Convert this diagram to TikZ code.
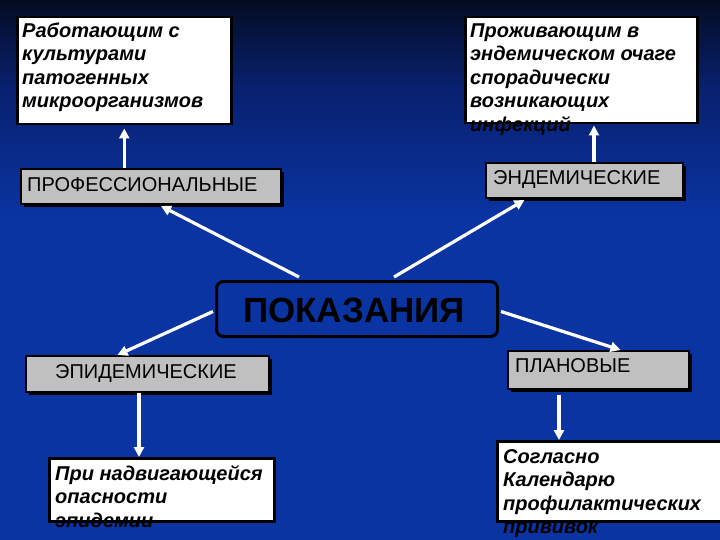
\documentclass[tikz,border=0pt]{standalone}
\usepackage{fontspec}
\setmainfont{Liberation Sans}
\usetikzlibrary{arrows.meta,positioning,calc,shadows}

\definecolor{bgblue}{RGB}{10,52,162}
\definecolor{bgtop}{RGB}{4,12,34}
\definecolor{bgmid}{RGB}{8,32,110}
\definecolor{boxgray}{RGB}{192,192,192}
\pgfdeclareverticalshading{slide}{100bp}{color(0bp)=(bgblue); color(25bp)=(bgblue);
  color(55bp)=(bgblue); color(67bp)=(bgmid); color(75bp)=(bgtop); color(100bp)=(bgtop)}
\newcommand{\firstline}{\rule{0pt}{16pt}}

\begin{document}
\begin{tikzpicture}[
  x=1pt, y=-1pt,
  whitebox/.style={draw=black, line width=2.5pt, fill=white, inner sep=0pt, anchor=north west},
  graybox/.style={draw=black, line width=2pt, fill=boxgray, inner sep=0pt, anchor=north west,
    drop shadow={shadow xshift=3pt, shadow yshift=-3pt, opacity=1, fill=black}},
  mainbox/.style={draw=black, line width=3pt, fill=bgblue, rounded corners=7pt,
    inner sep=0pt, anchor=north west},
  itext/.style={anchor=north west, align=left, inner sep=0pt, text=black,
    font=\fontsize{20}{23.5}\selectfont\bfseries\itshape},
  ctext/.style={anchor=base west, inner sep=0pt, text=black, font=\fontsize{20}{24}\selectfont},
  arr/.style={-{Triangle[length=10pt,width=10pt]}, draw=white, line width=3.2pt}
]
% background
\shade[shading=slide] (0,0) rectangle (720,540);
\useasboundingbox (0,0) rectangle (720,540);

% ── top row: who gets vaccinated ───────────────────────────────────────
\node[whitebox, minimum width=214pt, minimum height=107pt] (work) at (16,16) {};
\node[itext] (worktxt) at (22,21) {\firstline Работающим с\\культурами\\патогенных\\микроорганизмов};
\node[whitebox, minimum width=232pt, minimum height=106pt] (live) at (464,16) {};
\node[itext] (livetxt) at (470,21) {\firstline Проживающим в\\эндемическом очаге\\спорадически\\возникающих\\инфекций};

% ── kinds of indications ───────────────────────────────────────────────
\node[graybox, minimum width=260pt, minimum height=35pt] (prof) at (20,168) {};
\node[ctext] (proftxt) at (27,192) {ПРОФЕССИОНАЛЬНЫЕ};
\node[graybox, minimum width=197pt, minimum height=35pt] (endem) at (485,162) {};
\node[ctext] (endemtxt) at (493,185) {ЭНДЕМИЧЕСКИЕ};

\node[mainbox, minimum width=281pt, minimum height=55pt] (pok) at (215,280) {};
\node[anchor=base west, inner sep=0pt, text=black,
  font=\fontsize{35}{40}\selectfont\bfseries] (poktxt) at (243,322) {ПОКАЗАНИЯ};

\node[graybox, minimum width=243pt, minimum height=36pt] (epid) at (25,355) {};
\node[ctext] (epidtxt) at (55,378) {ЭПИДЕМИЧЕСКИЕ};
\node[graybox, minimum width=181pt, minimum height=38pt] (plan) at (507,350) {};
\node[ctext] (plantxt) at (515,372) {ПЛАНОВЫЕ};

% ── bottom row ─────────────────────────────────────────────────────────
\node[whitebox, minimum width=225pt, minimum height=63pt] (threat) at (48,457) {};
\node[itext] (threattxt) at (55,464) {\firstline При надвигающейся\\опасности\\эпидемии};
\node[whitebox, minimum width=226pt, minimum height=80pt] (cal) at (496,440) {};
\node[itext] (caltxt) at (503,447) {\firstline Согласно\\Календарю\\профилактических\\прививок};

% ── connectors ─────────────────────────────────────────────────────────
\draw[arr] ([xshift=-58pt,yshift=3pt]pok.north) -- ([xshift=10pt,yshift=-1pt]prof.south);
\draw[arr] ([xshift=37pt,yshift=3pt]pok.north) -- ([xshift=-60pt,yshift=-1pt]endem.south);
\draw[arr] ([xshift=-2pt,yshift=-2.5pt]pok.west) -- ([xshift=-30pt]epid.north);
\draw[arr] ([xshift=2pt,yshift=-2.5pt]pok.east) -- ([xshift=22pt]plan.north);
\draw[arr] (prof.north -| work.south) -- ([yshift=-3pt]work.south);
\draw[arr] ([xshift=9.5pt]endem.north) -- ([xshift=9.5pt,yshift=-1pt]endem.north |- live.south);
\draw[arr] ([xshift=-8.5pt]epid.south) -- ([xshift=-8.5pt]epid.south |- threat.north);
\draw[arr] ([xshift=-39.5pt,yshift=-5pt]plan.south) -- ([xshift=-39.5pt]plan.south |- cal.north);
\end{tikzpicture}
\end{document}
